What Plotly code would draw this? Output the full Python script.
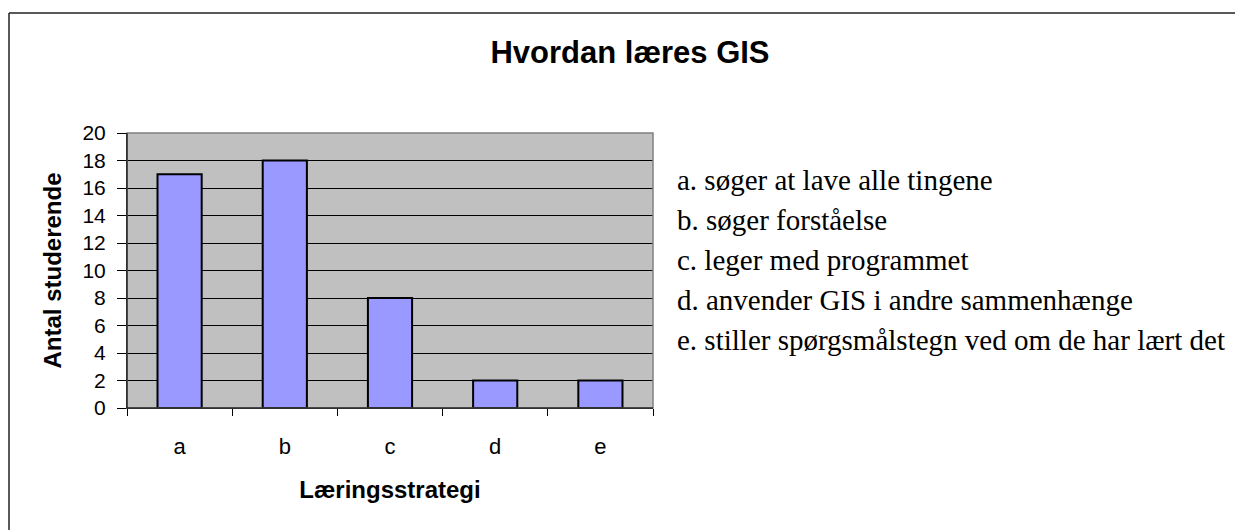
import plotly.graph_objects as go

# data
kategorier = ["a", "b", "c", "d", "e"]
antal = [17, 18, 8, 2, 2]
forklaringer = [
    "a. søger at lave alle tingene",
    "b. søger forståelse",
    "c. leger med programmet",
    "d. anvender GIS i andre sammenhænge",
    "e. stiller spørgsmålstegn ved om de har lært det",
]
y_ticks = list(range(0, 21, 2))

# the page puts the figure 8px in from the top left corner
W, H = 1235, 522
L, R, T, B = 119, 645, 125, 400


def px_x(px):
    return (px - L) / (R - L)


def px_y(py):
    return (B - py) / (B - T)


fig = go.Figure(go.Bar(
    x=kategorier,
    y=antal,
    width=0.42,
    marker=dict(color="#9999FF", line=dict(color="#000000", width=2)),
))

fig.update_layout(
    width=W, height=H,
    margin=dict(l=L, r=W - R, t=T, b=H - B),
    paper_bgcolor="white",
    plot_bgcolor="#C0C0C0",
    showlegend=False,
    font=dict(family="Liberation Sans, Arial", color="black"),
    title=dict(
        text="<b>Hvordan læres GIS</b>",
        x=622 / W, xanchor="center", xref="container",
        y=1 - 44 / H, yanchor="middle", yref="container",
        font=dict(size=31, family="Liberation Sans, Arial", color="black"),
    ),
)

fig.update_xaxes(
    type="category",
    showline=True, linecolor="black", linewidth=1,
    ticks="outside", tickson="boundaries", ticklen=7, tickcolor="black",
    tickfont=dict(size=22),
    ticklabelstandoff=19,
    title=dict(text="<b>Læringsstrategi</b>", font=dict(size=24), standoff=22),
    showgrid=False,
)
fig.update_yaxes(
    range=[0, 20],
    tickvals=y_ticks,
    showline=True, linecolor="black", linewidth=1,
    ticks="outside", ticklen=9, tickcolor="black",
    tickfont=dict(size=21),
    ticklabelstandoff=7,
    showgrid=True, gridcolor="black", gridwidth=1,
    zeroline=False,
    title=dict(text="<b>Antal studerende</b>", font=dict(size=24), standoff=14),
)

# grey border round the plot area, black axis lines on left and bottom
fig.add_shape(type="rect", xref="paper", yref="paper", x0=0, y0=0, x1=1, y1=1,
              line=dict(color="#808080", width=1.5), layer="above")
fig.add_shape(type="line", xref="paper", yref="paper", x0=0, y0=0, x1=0, y1=1,
              line=dict(color="black", width=1), layer="above")
fig.add_shape(type="line", xref="paper", yref="paper", x0=0, y0=0, x1=1, y1=0,
              line=dict(color="black", width=1), layer="above")

# outer chart frame (only top and left are visible in the picture)
fig.add_shape(type="line", xref="paper", yref="paper",
              x0=px_x(1), y0=px_y(5), x1=px_x(W + 20), y1=px_y(5),
              line=dict(color="#222222", width=1.5))
fig.add_shape(type="line", xref="paper", yref="paper",
              x0=px_x(1), y0=px_y(5), x1=px_x(1), y1=px_y(H + 20),
              line=dict(color="#222222", width=1.5))

for i, txt in enumerate(forklaringer):
    fig.add_annotation(
        text=txt, xref="paper", yref="paper",
        x=px_x(667), y=px_y(172 + 40 * i),
        xanchor="left", yanchor="middle", showarrow=False,
        font=dict(family="Liberation Serif, Times New Roman", size=29, color="black"),
    )

fig.write_html("out.html")
